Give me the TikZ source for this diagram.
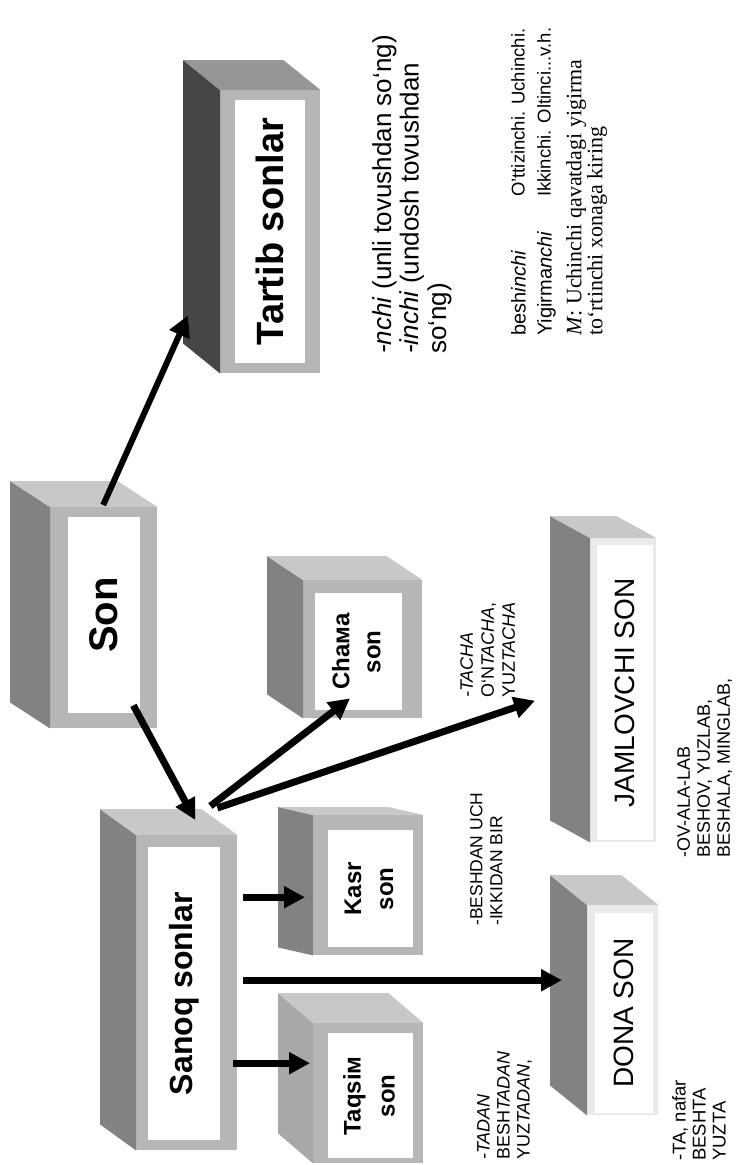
\documentclass[tikz,border=0pt]{standalone}
\usepackage{fontspec}
\setmainfont{Liberation Sans}
\newfontfamily\serifnote{Liberation Serif}
\usetikzlibrary{
    arrows.meta,
    calc,
    backgrounds
}
\definecolor{slabdark}{RGB}{70, 70, 70}
\definecolor{slabmid}{RGB}{130, 130, 130}
\definecolor{slablight}{RGB}{168, 168, 168}
\definecolor{topdark}{RGB}{150, 150, 150}
\definecolor{toplight}{RGB}{200, 200, 200}
\definecolor{framemid}{RGB}{182, 182, 182}
\definecolor{framepale}{RGB}{234, 234, 234}

\begin{document}
\begin{tikzpicture}[
        x=1pt, y=-1pt,
        box/.style={rectangle, fill=white, inner sep=0pt, anchor=north west, align=center},
        note/.style={rotate=90, anchor=north west, inner sep=0pt, align=left},
        arr/.style={-{Triangle[length=21pt, width=21pt]}, line width=7pt}
    ]
        \useasboundingbox (0,0) rectangle (742,1165);

        % front faces
        \node[box, minimum width=70pt, minimum height=263pt, font=\bfseries\fontsize{38}{40}\selectfont] (tartib) at (235,100) {\rotatebox{90}{Tartib sonlar}};
        \node[box, minimum width=72pt, minimum height=196pt, font=\bfseries\fontsize{40}{44}\selectfont] (son) at (68,517) {\rotatebox{90}{Son}};
        \node[box, minimum width=72pt, minimum height=293pt, font=\bfseries\fontsize{32}{36}\selectfont] (sanoq) at (148,847) {\rotatebox{90}{Sanoq sonlar}};
        \node[box, minimum width=87pt, minimum height=117pt, font=\bfseries\fontsize{24}{31}\selectfont] (chama) at (315,593) {\rotatebox{90}{\begin{tabular}{@{}c@{}}Chaмa\\son\end{tabular}}};
        \node[box, minimum width=85pt, minimum height=117pt, font=\bfseries\fontsize{24}{32}\selectfont] (kasr) at (328,830) {\rotatebox{90}{\begin{tabular}{@{}c@{}}Kasr\\son\end{tabular}}};
        \node[box, minimum width=85pt, minimum height=125pt, font=\bfseries\fontsize{24}{34}\selectfont] (taqsim) at (328,1033) {\rotatebox{90}{\begin{tabular}{@{}c@{}}Taqsiм\\son\end{tabular}}};
        \node[box, minimum width=58pt, minimum height=200pt, font=\fontsize{28}{30}\selectfont] (dona) at (595,913) {\rotatebox{90}{DONA SON}};
        \node[box, minimum width=56pt, minimum height=295pt, font=\fontsize{28}{30}\selectfont] (jamlovchi) at (597,545) {\rotatebox{90}{JAMLOVCHI SON}};

        % frames, side and top faces
        \begin{scope}[on background layer]
            \fill[white] (0,0) rectangle (742,1165);
            \foreach \nm/\ml/\mt/\mr/\mb/\ddx/\ddy/\cs/\ct/\cf in {
                tartib/15/10/15/10/-37/-30/slabdark/topdark/framemid,
                son/18/10/17/15/-40/-26/slabmid/toplight/framemid,
                sanoq/12/12/17/10/-36/-26/slabmid/toplight/framemid,
                chama/12/13/20/8/-36/-24/slabmid/toplight/framemid,
                kasr/15/15/10/8/-35/-8/slabmid/toplight/framemid,
                taqsim/15/10/10/5/-35/-30/slablight/toplight/framemid,
                dona/8/8/5/2/-37/-30/slabmid/toplight/framepale,
                jamlovchi/7/7/3/2/-40/-22/slabmid/toplight/framepale}{
                \coordinate (A) at ($(\nm.north west)+(-\ml,-\mt)$);
                \coordinate (B) at ($(\nm.south west)+(-\ml,\mb)$);
                \coordinate (C) at ($(\nm.north east)+(\mr,-\mt)$);
                \coordinate (D) at ($(\nm.south east)+(\mr,\mb)$);
                \fill[\cf] (A) rectangle (D);
                \fill[\cs] (A) -- ++(\ddx,\ddy) -- ($(B)+(\ddx,\ddy)$) -- (B) -- cycle;
                \fill[\ct] (A) -- ++(\ddx,\ddy) -- ($(C)+(\ddx,\ddy)$) -- (C) -- cycle;
            }
        \end{scope}

        % connectors
        \draw[arr, line width=6pt] ($(son.north)+(-1,-12)$) -- ($(tartib.south west)+(-47,-48)$);
        \draw[arr] ($(son.south east)+(-7,-8)$) -- ($(sanoq.north)+(11,-27)$);
        \draw[arr] ($(sanoq.north east)+(-10,-41)$) -- ($(chama.south west)+(35,-12)$);
        \draw[arr] ($(sanoq.north east)+(-3,-39)$) -- ($(jamlovchi.west)+(-62,8)$);
        \draw[arr] ($(sanoq.east)+(23,-96.5)$) -- ($(kasr.west)+(-23,8.5)$);
        \draw[arr] ($(sanoq.east)+(23,-13.5)$) -- ($(dona.west)+(-33,-33)$);
        \draw[arr] ($(sanoq.east)+(13,69.5)$) -- ($(taqsim.west)+(-18,-32.5)$);

        % texts
        \node[note, font=\fontsize{26}{27.5}\selectfont] (nchi) at (372,354) {\textit{-nchi} (unli tovushdan so‘ng)\\\textit{-inchi} (undosh tovushdan\\so‘ng)};
        \node[note, font=\fontsize{20}{26}\selectfont] (ordex) at (511,336) {besh\textit{inchi}\\Yigirma\textit{nchi}};
        \node[note, font=\fontsize{18.5}{26}\selectfont] (ordnum) at (511,197) {O'ttizinchi. Uchinchi.\\Ikkinchi. Oltinci...v.h.};
        \node[note, font=\serifnote\fontsize{22}{20}\selectfont] (misol) at (566,336) {\textit{M}: Uchinchi qavatdagi yigirma\\to‘rtinchi xonaga kiring};
        \node[note, font=\fontsize{18}{21}\selectfont] (tacha) at (460,698) {\textit{-TACHA}\\O‘N\textit{TACHA},\\YUZ\textit{TACHA}};
        \node[note, font=\fontsize{17.5}{20}\selectfont] (beshdan) at (470,926) {-BESHDAN UCH\\-IKKIDAN BIR};
        \node[note, font=\fontsize{18}{20}\selectfont] (tadan) at (477,1160) {\textit{-TADAN}\\BESH\textit{TADAN}\\YUZ\textit{TADAN},};
        \node[note, font=\fontsize{18}{20}\selectfont] (lab) at (677,858) {-OV-ALA-LAB\\BESHOV, YUZLAB,\\BESHALA, MINGLAB,};
        \node[note, font=\fontsize{18.5}{20}\selectfont] (nafar) at (672,1161) {-TA, nafar\\BESHTA\\YUZTA};
    \end{tikzpicture}
\end{document}
